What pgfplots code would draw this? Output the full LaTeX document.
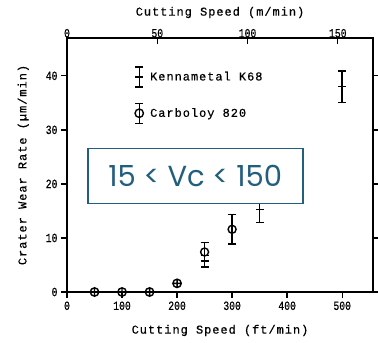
\documentclass[border=0pt]{standalone}
\usepackage{pgfplots}
\pgfplotsset{compat=1.18}
\usepackage{fontspec}
\setmainfont{Liberation Mono}
\newfontfamily\tickfont[FakeStretch=0.78, FakeBold=0.5]{Liberation Mono}
\newfontfamily\labfont[LetterSpace=8, FakeBold=0.5]{Liberation Mono}
\newfontfamily\boxfont{Poppins}
\definecolor{teal1}{HTML}{225E7E}
\begin{document}
\begin{tikzpicture}
\begin{axis}[
  name=ax,
  scale only axis, width=306pt, height=254pt,
  xmin=0, xmax=556, ymin=0, ymax=47,
  axis line style={line width=1.3pt},
  xtick={0,100,...,500}, ytick={0,10,...,40},
  xtick pos=lower, ytick pos=both,
  tick align=outside,
  major tick length=6pt,
  tick style={line width=1.3pt, black},
  /pgf/number format/assume math mode=true,
  tick label style={font=\tickfont\fontsize{12.5}{12.5}\selectfont},
  xlabel={Cutting Speed (ft/min)},
  ylabel={Crater Wear Rate (µm/min)},
  label style={font=\labfont\fontsize{12}{12}\selectfont},
  xlabel style={yshift=-8pt},
  ylabel style={yshift=10pt},
  legend style={draw=none, fill=none, font=\labfont\fontsize{12}{12}\selectfont,
    at={(axis cs:122,42.2)}, anchor=north west, row sep=15pt,
    cells={anchor=west}, inner xsep=0pt,
    nodes={inner xsep=6pt}},
  legend cell align=left,
  clip=false,
]
% Kennametal K68
\addplot[black, line width=1.6pt, mark=-, mark size=4pt, only marks,
  legend image code/.code={
    \draw[black, line width=1.4pt] (4pt,-10pt)--(4pt,10pt)
      (0pt,-10pt)--(8pt,-10pt) (0pt,10pt)--(8pt,10pt) (0pt,0pt)--(8pt,0pt);},
  error bars/.cd, y dir=both, y explicit,
  error bar style={line width=1.7pt, solid, black},
  error mark options={rotate=90, mark size=4pt, line width=1.5pt}]
  coordinates {
  (250,5.7) +- (0,1.1)
  (350,15.3) +- (0,2.4)
  (500,38.0) +- (0,2.9)
  };
\addlegendentry{Kennametal K68}
% Carboloy 820
\addplot[black, line width=1.4pt, mark=o, mark size=4pt, only marks,
  legend image code/.code={
    \draw[black, line width=1.4pt] (4pt,-10pt)--(4pt,10pt)
      (0pt,-10pt)--(8pt,-10pt) (0pt,10pt)--(8pt,10pt);
    \draw[black, line width=1.4pt, fill=white] (4pt,0pt) circle (4.2pt);
    \draw[black, line width=1.4pt] (4pt,-4.2pt)--(4pt,4.2pt);},
  error bars/.cd, y dir=both, y explicit,
  error bar style={line width=1.5pt, solid, black},
  error mark options={rotate=90, mark size=4pt, line width=1.4pt}]
  coordinates {
  (250,7.4) +- (0,1.8)
  (300,11.6) +- (0,2.7)
  };
\addlegendentry{Carboloy 820}
\addplot[black, line width=1.4pt, mark=oplus, mark size=4.2pt, only marks, forget plot]
  coordinates {(50,0) (100,0) (150,0) (200,1.6)};
\node[draw=teal1, line width=1.6pt, fill=white, minimum width=215pt, minimum height=55pt,
  text=teal1, font=\boxfont\fontsize{29}{29}\selectfont, inner sep=0pt]
  at (axis cs:233,21.5) {15 < Vc < 150};
\end{axis}
\begin{axis}[
  scale only axis, width=306pt, height=254pt,
  xmin=0, xmax=169.5, ymin=0, ymax=47,
  axis x line*=top, hide y axis,
  axis line style={line width=1.3pt, -},
  xtick={0,50,100,150},
  tick align=inside,
  major tick length=6pt,
  tick style={line width=1.3pt, black},
  /pgf/number format/assume math mode=true,
  tick label style={font=\tickfont\fontsize{12.5}{12.5}\selectfont},
  xticklabel style={yshift=-3pt},
  xlabel={Cutting Speed (m/min)},
  xlabel style={yshift=4pt},
  label style={font=\labfont\fontsize{12}{12}\selectfont},
]
\addplot[draw=none] coordinates {(0,0)};
\end{axis}
\pgfresetboundingbox
\path ([xshift=-67pt,yshift=-50pt]ax.south west) rectangle ([xshift=5pt,yshift=38pt]ax.north east);
\end{tikzpicture}
\end{document}
